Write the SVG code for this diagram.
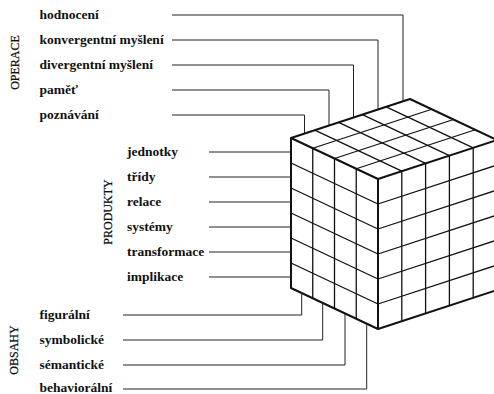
<svg xmlns="http://www.w3.org/2000/svg" width="494" height="394" viewBox="0 0 494 394">
<style>
.lbl{font-family:"Liberation Serif","Times New Roman",serif;font-weight:bold;font-size:13.5px;fill:#111}
.ax{font-family:"Liberation Serif","Times New Roman",serif;font-size:12px;fill:#111;stroke:#111;stroke-width:0.25}
.con{fill:none;stroke:#222;stroke-width:1}
.grid{fill:none;stroke:#111;stroke-width:1.3;stroke-linecap:round}
.edge{fill:none;stroke:#111;stroke-width:2;stroke-linejoin:round}
</style>
<rect width="494" height="394" fill="#fff"/>
<g id="cube">
<polygon points="291,138 410,99 497,140 497,290 378,329 291,288" fill="#fff"/>
<g class="grid">
<line x1="312.75" y1="148.25" x2="431.75" y2="109.25"/>
<line x1="334.5" y1="158.5" x2="453.5" y2="119.5"/>
<line x1="356.25" y1="168.75" x2="475.25" y2="129.75"/>
<line x1="314.8" y1="130.2" x2="401.8" y2="171.2"/>
<line x1="338.6" y1="122.4" x2="425.6" y2="163.4"/>
<line x1="362.4" y1="114.6" x2="449.4" y2="155.6"/>
<line x1="386.2" y1="106.8" x2="473.2" y2="147.8"/>
<line x1="312.75" y1="148.25" x2="312.75" y2="298.25"/>
<line x1="334.5" y1="158.5" x2="334.5" y2="308.5"/>
<line x1="356.25" y1="168.75" x2="356.25" y2="318.75"/>
<line x1="291" y1="163" x2="378" y2="204"/>
<line x1="291" y1="188" x2="378" y2="229"/>
<line x1="291" y1="213" x2="378" y2="254"/>
<line x1="291" y1="238" x2="378" y2="279"/>
<line x1="291" y1="263" x2="378" y2="304"/>
<line x1="401.8" y1="171.2" x2="401.8" y2="321.2"/>
<line x1="425.6" y1="163.4" x2="425.6" y2="313.4"/>
<line x1="449.4" y1="155.6" x2="449.4" y2="305.6"/>
<line x1="473.2" y1="147.8" x2="473.2" y2="297.8"/>
<line x1="378" y1="204" x2="497" y2="165"/>
<line x1="378" y1="229" x2="497" y2="190"/>
<line x1="378" y1="254" x2="497" y2="215"/>
<line x1="378" y1="279" x2="497" y2="240"/>
<line x1="378" y1="304" x2="497" y2="265"/>
</g>
<g class="edge">
<polygon points="291,138 410,99 497,140 497,290 378,329 291,288"/>
<polyline points="291,138 378,179 497,140"/>
<line x1="378" y1="179" x2="378" y2="329"/>
</g>
</g>
<g id="connectors" class="con">
<polyline points="172,15 403,15 403,101.3"/>
<polyline points="172,40 378,40 378,109.5"/>
<polyline points="172,65 353.5,65 353.5,117.5"/>
<polyline points="172,90 329,90 329,125.5"/>
<polyline points="172,115 304.5,115 304.5,133.6"/>
<line x1="209" y1="152" x2="291" y2="152"/>
<line x1="209" y1="177" x2="291" y2="177"/>
<line x1="209" y1="202" x2="291" y2="202"/>
<line x1="209" y1="227" x2="291" y2="227"/>
<line x1="209" y1="252" x2="291" y2="252"/>
<line x1="209" y1="277" x2="291" y2="277"/>
<polyline points="123,315 301.7,315 301.7,293"/>
<polyline points="123,340 322.7,340 322.7,302.9"/>
<polyline points="123,365 345,365 345,313.4"/>
<polyline points="123,389 366.7,389 366.7,323.7"/>
</g>
<g id="axis-operace"><text class="ax" transform="translate(18.5,62.5) rotate(-90)" text-anchor="middle">OPERACE</text></g>
<g id="axis-produkty"><text class="ax" transform="translate(111.5,212) rotate(-90)" text-anchor="middle">PRODUKTY</text></g>
<g id="axis-obsahy"><text class="ax" transform="translate(18,350) rotate(-90)" text-anchor="middle">OBSAHY</text></g>
<g id="op-hodnoceni"><text class="lbl" x="39.5" y="18.5">hodnocení</text></g>
<g id="op-konvergentni"><text class="lbl" x="39.5" y="43.5">konvergentní myšlení</text></g>
<g id="op-divergentni"><text class="lbl" x="39.5" y="68.5">divergentní myšlení</text></g>
<g id="op-pamet"><text class="lbl" x="39.5" y="93.5">paměť</text></g>
<g id="op-poznavani"><text class="lbl" x="39.5" y="118.5">poznávání</text></g>
<g id="pr-jednotky"><text class="lbl" x="127" y="155.5">jednotky</text></g>
<g id="pr-tridy"><text class="lbl" x="127" y="180.5">třídy</text></g>
<g id="pr-relace"><text class="lbl" x="127" y="205.5">relace</text></g>
<g id="pr-systemy"><text class="lbl" x="127" y="230.5">systémy</text></g>
<g id="pr-transformace"><text class="lbl" x="127" y="255.5">transformace</text></g>
<g id="pr-implikace"><text class="lbl" x="127" y="280.5">implikace</text></g>
<g id="ob-figuralni"><text class="lbl" x="39.5" y="318.5">figurální</text></g>
<g id="ob-symbolicke"><text class="lbl" x="39.5" y="343.5">symbolické</text></g>
<g id="ob-semanticke"><text class="lbl" x="39.5" y="368.5">sémantické</text></g>
<g id="ob-behavioralni"><text class="lbl" x="39.5" y="391.5">behaviorální</text></g>
</svg>
